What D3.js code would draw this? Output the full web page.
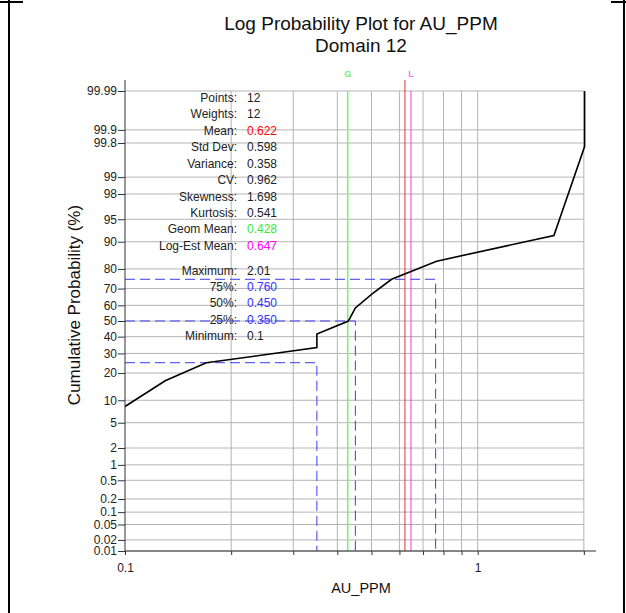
<!DOCTYPE html>
<html>
<head>
<meta charset="utf-8">
<script src="https://cdn.jsdelivr.net/npm/d3@7"></script>
<style>
  body { margin: 0; background: #fff; }
  svg { display: block; font-family: "Liberation Sans", Arial, sans-serif; }
  .grid line { stroke: #b4b4b4; stroke-width: 1; }
  .axis text { font-size: 12px; fill: #222; }
  .axis line { stroke: #333; }
</style>
</head>
<body>
<svg id="chart" width="626" height="613"></svg>
<script>
// sample values (AU_PPM) and their cumulative probability (%)
const auValues = [0.10, 0.13, 0.17, 0.35, 0.35, 0.43, 0.45, 0.50, 0.57, 0.765, 1.645, 2.01, 2.01];
const cumProb  = [8.33, 16.67, 25.0, 33.33, 41.67, 50.0, 58.33, 66.67, 75.0, 83.33, 91.67, 99.76, 99.99];

// quartiles shown as dashed guides
const quartileProbs  = [25, 50, 75];
const quartileValues = [0.350, 0.450, 0.760];

// mean markers
const markerNames  = ["Mean", "G", "L"];
const markerValues = [0.622, 0.428, 0.647];

// axis ticks
const xTicks = [0.1, 0.2, 0.3, 0.4, 0.5, 0.6, 0.7, 0.8, 0.9, 1, 2];
const xTickLabels = ["0.1", "", "", "", "", "", "", "", "", "1", ""];
const yTicks = [0.01, 0.02, 0.05, 0.1, 0.2, 0.5, 1, 2, 5, 10, 20, 30, 40, 50, 60, 70, 80, 90, 95, 98, 99, 99.8, 99.9, 99.99];
const yTickLabels = ["0.01", "0.02", "0.05", "0.1", "0.2", "0.5", "1", "2", "5", "10", "20", "30", "40", "50", "60", "70", "80", "90", "95", "98", "99", "99.8", "99.9", "99.99"];

// statistics block
const statLabels = ["Points:", "Weights:", "Mean:", "Std Dev:", "Variance:", "CV:", "Skewness:", "Kurtosis:", "Geom Mean:", "Log-Est Mean:",
                    "Maximum:", "75%:", "50%:", "25%:", "Minimum:"];
const statValues = ["12", "12", "0.622", "0.598", "0.358", "0.962", "1.698", "0.541", "0.428", "0.647",
                    "2.01", "0.760", "0.450", "0.350", "0.1"];

// inverse normal cdf (Acklam)
function probit(p) {
    const a = [-3.969683028665376e+01, 2.209460984245205e+02, -2.759285104469687e+02, 1.383577518672690e+02, -3.066479806614716e+01, 2.506628277459239e+00],
        b = [-5.447609879822406e+01, 1.615858368580409e+02, -1.556989798598866e+02, 6.680131188771972e+01, -1.328068155288572e+01],
        c = [-7.784894002430293e-03, -3.223964580411365e-01, -2.400758277161838e+00, -2.549732539343734e+00, 4.374664141464968e+00, 2.938163982698783e+00],
        d = [7.784695709041462e-03, 3.224671290700398e-01, 2.445134137142996e+00, 3.754408661907416e+00];
    const pl = 0.02425, ph = 1 - pl;
    let q, r;
    if (p < pl) {
        q = Math.sqrt(-2 * Math.log(p));
        return (((((c[0]*q+c[1])*q+c[2])*q+c[3])*q+c[4])*q+c[5]) / ((((d[0]*q+d[1])*q+d[2])*q+d[3])*q+1);
    }
    if (p <= ph) {
        q = p - 0.5; r = q * q;
        return (((((a[0]*r+a[1])*r+a[2])*r+a[3])*r+a[4])*r+a[5])*q / (((((b[0]*r+b[1])*r+b[2])*r+b[3])*r+b[4])*r+1);
    }
    q = Math.sqrt(-2 * Math.log(1 - p));
    return -(((((c[0]*q+c[1])*q+c[2])*q+c[3])*q+c[4])*q+c[5]) / ((((d[0]*q+d[1])*q+d[2])*q+d[3])*q+1);
}

let plotLeft = 125, plotRight = 584.6, plotTop = 91, plotBottom = 551;

let svg = d3.select("#chart");

let x = d3.scaleLog().domain([0.1, 2.01]).range([plotLeft, plotRight]);
let z = d3.scaleLinear().domain([probit(0.0001), probit(0.9999)]).range([plotBottom, plotTop]);
let y = p => z(probit(p / 100));

// page frame marks
svg.append("g")
    .attr("stroke", "#000").attr("stroke-width", 2)
    .call(g => {
        g.append("line").attr("x1", 9).attr("x2", 9).attr("y1", 0).attr("y2", 613);
        g.append("line").attr("x1", 0).attr("x2", 23).attr("y1", 2).attr("y2", 2);
        g.append("line").attr("x1", 624).attr("x2", 624).attr("y1", 0).attr("y2", 613);
        g.append("line").attr("x1", 611).attr("x2", 626).attr("y1", 2).attr("y2", 2);
    });

// title
svg.append("text").attr("x", 361).attr("y", 30).attr("text-anchor", "middle")
    .style("font-size", "19px").attr("fill", "#111").text("Log Probability Plot for AU_PPM");
svg.append("text").attr("x", 361).attr("y", 52).attr("text-anchor", "middle")
    .style("font-size", "19px").attr("fill", "#111").text("Domain 12");

// grid
let grid = svg.append("g").attr("class", "grid");
grid.selectAll(".gx").data(xTicks.filter(d => d > 0.1)).enter().append("line")
    .attr("x1", d => x(d)).attr("x2", d => x(d))
    .attr("y1", plotTop).attr("y2", plotBottom);
grid.selectAll(".gy").data(yTicks).enter().append("line")
    .attr("x1", plotLeft).attr("x2", x(2))
    .attr("y1", d => y(d)).attr("y2", d => y(d));

// stats block
let stats = svg.append("g").style("font-size", "12px");
let statColor = {"Mean:": "#ff0000", "Geom Mean:": "#33ee33", "Log-Est Mean:": "#ff00ff",
                 "75%:": "#3333ff", "50%:": "#3333ff", "25%:": "#3333ff"};
statLabels.forEach(function (lab, i) {
    let row = i < 10 ? i : i + 0.5;
    let cy = 97.5 + 16.45 * row + 4.3;
    stats.append("text").attr("x", 237).attr("y", cy).attr("text-anchor", "end")
        .attr("fill", "#222").text(lab);
    stats.append("text").attr("x", 247).attr("y", cy)
        .attr("fill", statColor[lab] || "#222").text(statValues[i]);
});

// quartile guides
svg.append("g").selectAll("path").data(quartileProbs).enter().append("path")
    .attr("d", (p, i) => "M" + plotLeft + "," + y(p) + "H" + x(quartileValues[i]) + "V" + plotBottom)
    .attr("fill", "none")
    .attr("stroke", "#3c3cf0")
    .attr("stroke-width", 1)
    .attr("stroke-dasharray", "10,5");

// mean markers
let markerColor = {"Mean": "#e83030", "G": "#7cf07c", "L": "#e040e0"};
markerNames.forEach(function (name, i) {
    let mx = x(markerValues[i]);
    svg.append("line")
        .attr("x1", mx).attr("x2", mx)
        .attr("y1", name === "Mean" ? 80 : plotTop).attr("y2", plotBottom)
        .attr("stroke", markerColor[name])
        .attr("stroke-width", name === "G" ? 1.6 : 1);
    if (name !== "Mean") {
        svg.append("text").attr("x", mx).attr("y", 77).attr("text-anchor", "middle")
            .style("font-size", "9px").style("font-weight", "bold")
            .attr("fill", name === "G" ? "#70f070" : "#ff70ff").text(name);
    }
});

// cumulative curve
let line = d3.line().x(d => x(d[0])).y(d => y(d[1]));
svg.append("path")
    .datum(auValues.map((v, i) => [v, cumProb[i]]))
    .attr("d", line)
    .attr("fill", "none")
    .attr("stroke", "#000")
    .attr("stroke-width", 1.6);

// axes
let xAxis = d3.axisBottom(x).tickValues(xTicks)
    .tickFormat((d, i) => xTickLabels[i]).tickSize(4).tickSizeOuter(0).tickPadding(8);
svg.append("g").attr("class", "axis").attr("transform", "translate(0," + plotBottom + ")")
    .call(xAxis)
    .call(g => g.select(".domain").remove());
svg.append("line").attr("x1", plotLeft).attr("x2", 596).attr("y1", plotBottom).attr("y2", plotBottom)
    .attr("stroke", "#333");

let yAxis = d3.axisLeft(z).tickValues(yTicks.map(p => probit(p / 100)))
    .tickFormat((d, i) => yTickLabels[i]).tickSize(7).tickSizeOuter(0).tickPadding(1);
svg.append("g").attr("class", "axis").attr("transform", "translate(" + plotLeft + ",0)")
    .call(yAxis)
    .call(g => g.select(".domain").remove());
svg.append("line").attr("x1", plotLeft).attr("x2", plotLeft).attr("y1", 80).attr("y2", plotBottom)
    .attr("stroke", "#333");

// axis titles
svg.append("text").attr("x", 361).attr("y", 593).attr("text-anchor", "middle")
    .style("font-size", "14.5px").attr("fill", "#111").text("AU_PPM");
svg.append("text").attr("transform", "translate(80,305) rotate(-90)").attr("text-anchor", "middle")
    .style("font-size", "17px").attr("fill", "#111").text("Cumulative Probability (%)");
</script>
</body>
</html>
